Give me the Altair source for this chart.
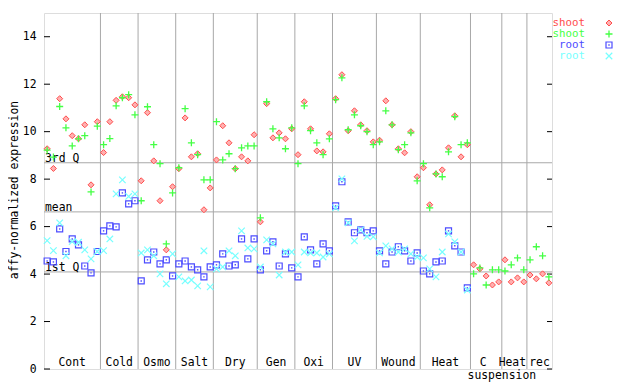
import altair as alt
import pandas as pd

# ---- data ----
categories = ["Cont", "Cold", "Osmo", "Salt", "Dry", "Gen", "Oxi", "UV", "Wound", "Heat", "C", "Heat", "rec"]
counts = [9, 6, 6, 6, 7, 6, 6, 7, 7, 8, 5, 4, 4]

shoot_red = [
    9.28, 8.45, 11.39, 10.54, 9.83, 9.70, 10.29, 7.76, 10.42,
    9.12, 10.42, 11.32, 11.47, 11.43, 11.13,
    7.93, 10.80, 8.77, 7.09, 5.02, 7.68,
    8.44, 10.58, 8.94, 9.07, 6.71, 7.63,
    8.81, 10.25, 9.53, 8.44, 8.94, 8.77, 9.87,
    6.20, 11.18, 9.74, 9.95, 9.70, 10.12,
    9.03, 11.26, 10.12, 9.19, 9.15, 9.91,
    11.39, 12.40, 10.04, 10.88, 10.29, 10.04, 9.57,
    9.64, 11.30, 10.29, 9.28, 9.11, 10.00, 8.10,
    8.48, 6.92, 8.22, 8.39, 9.32, 10.67, 8.94, 9.45,
    4.39, 4.22, 3.92, 3.54, 3.67,
    4.60, 3.67, 3.84, 3.67,
    3.96, 3.80, 4.01, 3.63,
]
shoot_green = [
    9.22, 8.93, 11.06, 10.16, 9.40, 9.70, 9.83, 7.46, 10.23,
    9.45, 9.71, 11.09, 11.43, 11.56, 10.71,
    7.09, 11.05, 9.45, 8.65, 5.27, 7.42,
    8.48, 10.97, 9.53, 9.03, 7.97, 7.97,
    10.42, 8.81, 9.07, 8.44, 9.32, 9.40, 9.40,
    6.37, 11.26, 10.12, 9.74, 9.28, 10.16,
    8.65, 11.09, 10.04, 9.53, 9.03, 9.70,
    11.35, 12.27, 10.08, 10.71, 10.25, 10.00, 9.45,
    9.57, 10.88, 10.29, 9.24, 9.45, 9.95, 7.93,
    8.65, 6.79, 8.22, 8.10, 9.15, 10.63, 9.45, 9.53,
    4.01, 4.26, 3.54, 4.18, 4.18,
    4.13, 4.39, 4.68, 4.18,
    4.60, 5.15, 4.77, 3.88,
]
root_blue = [
    4.55, 4.51, 5.90, 4.95, 5.48, 5.23, 4.34, 4.05, 4.95,
    5.82, 6.03, 5.99, 7.42, 6.96, 7.09,
    3.71, 4.60, 4.93, 4.43, 4.60, 3.92,
    4.43, 4.55, 4.30, 4.18, 3.88, 4.30,
    4.39, 4.85, 4.34, 4.39, 5.48, 4.64, 5.48,
    4.18, 4.98, 5.36, 4.34, 4.85, 4.26,
    3.88, 5.57, 5.02, 4.43, 5.27, 4.98,
    6.87, 7.89, 6.20, 5.74, 5.86, 5.74, 5.82,
    4.98, 4.43, 4.93, 5.15, 4.98, 4.55, 4.89,
    4.13, 4.01, 4.51, 4.55, 5.82, 5.19, 4.93, 3.42,
]
root_cyan = [
    5.41, 4.99, 6.16, 4.77, 5.37, 5.34, 5.02, 4.64, 4.95,
    4.99, 5.48, 7.38, 7.97, 7.27, 7.38,
    4.89, 5.02, 4.77, 4.01, 3.59, 4.85,
    3.88, 3.71, 3.75, 3.50, 4.98, 3.46,
    4.22, 4.30, 4.98, 4.77, 5.82, 5.10, 5.06,
    4.30, 5.44, 5.27, 3.96, 4.93, 4.93,
    4.39, 4.93, 4.89, 4.89, 4.72, 4.85,
    6.79, 8.01, 6.16, 5.40, 5.86, 5.59, 5.57,
    4.89, 5.19, 5.06, 4.93, 5.06, 4.85, 4.72,
    4.68, 4.22, 3.88, 4.93, 5.69, 5.36, 4.93, 3.33,
]
ref_names = ["3rd Q", "mean", "1st Q"]
ref_values = [8.69, 6.62, 4.09]
y_ticks = [0, 2, 4, 6, 8, 10, 12, 14]
series_labels = ["shoot", "shoot", "root", "root"]

# ---- layout / style ----
W, H = 508, 356
FONT = "DejaVu Sans Mono"
FS = 11.4
GRID = "#a8a8a8"
RED, GREEN, BLUE, CYAN = "#ff4d4d", "#44ff44", "#4c4cff", "#77ffff"
PLUS = "M-1,0L1,0M0,-1L0,1"
XSHAPE = "M-1,-1L1,1M-1,1L1,-1"
LABEL_DX = {10: -3, 11: -2}   # small nudges of category labels (by position in list)

N = sum(counts)
bounds = []
acc = 0
starts = []
for c in counts:
    starts.append(acc)
    acc += c
    bounds.append(acc)
bounds = bounds[:-1]

X = lambda f: alt.X(f, type="quantitative", scale=alt.Scale(domain=[0, N], nice=False, zero=False), axis=None)
Y = lambda f: alt.Y(f, type="quantitative", scale=alt.Scale(domain=[0, 15], nice=False),
                    axis=alt.Axis(values=y_ticks, ticks=False, domain=False, grid=False, title=None,
                                  labelFont=FONT, labelFontSize=FS, labelColor="black",
                                  labelPadding=8))


def series_df(vals):
    return pd.DataFrame({"x": [i + 0.5 for i in range(len(vals))], "v": vals})


layers = []

# vertical category separators
layers.append(alt.Chart(pd.DataFrame({"b": bounds})).mark_rule(color=GRID, strokeWidth=1).encode(x=X("b")))
# horizontal reference lines
ref_df = pd.DataFrame({"v": ref_values, "t": ref_names})
layers.append(alt.Chart(ref_df).mark_rule(color=GRID, strokeWidth=1).encode(y=Y("v")))
layers.append(alt.Chart(ref_df).mark_text(align="left", baseline="alphabetic", dy=-1, font=FONT,
                                          fontSize=FS, color="black")
              .encode(y=Y("v"), x=alt.value(1), text="t:N"))

# inward ticks left and right
tick_df = pd.DataFrame({"v": y_ticks})
layers.append(alt.Chart(tick_df).mark_rule(color="black").encode(y=Y("v"), x=alt.value(0), x2=alt.value(6)))
layers.append(alt.Chart(tick_df).mark_rule(color="black").encode(y=Y("v"), x=alt.value(W - 5), x2=alt.value(W)))

# data points
pt_defs = [
    (shoot_red, dict(shape="diamond", size=36, filled=True, fill="#ffb0b0", stroke=RED, strokeWidth=1)),
    (shoot_green, dict(shape=PLUS, size=49, filled=False, stroke=GREEN, strokeWidth=1.3)),
    (root_blue, dict(shape="square", size=36, filled=False, stroke=BLUE, strokeWidth=1.2)),
    (root_cyan, dict(shape=XSHAPE, size=42, filled=False, stroke=CYAN, strokeWidth=1.2)),
]
for vals, style in pt_defs:
    layers.append(alt.Chart(series_df(vals)).mark_point(opacity=1, **style).encode(x=X("x"), y=Y("v")))
    if style["shape"] == "square":
        layers.append(alt.Chart(series_df(vals)).mark_square(size=2, color=BLUE, opacity=1)
                      .encode(x=X("x"), y=Y("v")))

# category labels
for k, (cat, s, n) in enumerate(zip(categories, starts, counts)):
    layers.append(alt.Chart(pd.DataFrame({"c": [cat], "x": [s + n / 2]}))
                  .mark_text(baseline="alphabetic", font=FONT, fontSize=FS, color="black",
                             dx=LABEL_DX.get(k, 0))
                  .encode(x=X("x"), y=alt.value(H - 3), text="c:N"))
layers.append(alt.Chart(pd.DataFrame({"c": ["suspension"], "x": [bounds[10]]}))
              .mark_text(baseline="alphabetic", font=FONT, fontSize=FS, color="black")
              .encode(x=X("x"), y=alt.value(H + 10), text="c:N"))

# y title
layers.append(alt.Chart(pd.DataFrame({"t": ["affy-normalized expression"]}))
              .mark_text(angle=270, align="center", baseline="middle", font=FONT, fontSize=FS, color="black")
              .encode(x=alt.value(-29), y=alt.value(177), text="t:N"))

# manual legend
leg_styles = [s for _, s in pt_defs]
leg_colors = [RED, GREEN, BLUE, CYAN]
for k, (lab, col, st) in enumerate(zip(series_labels, leg_colors, leg_styles)):
    yy = 10 + 11 * k
    layers.append(alt.Chart(pd.DataFrame({"t": [lab]}))
                  .mark_text(align="right", baseline="middle", font=FONT, fontSize=10.8, color=col)
                  .encode(x=alt.value(541), y=alt.value(yy), text="t:N"))
    layers.append(alt.Chart(pd.DataFrame({"t": [lab]})).mark_point(opacity=1, **st)
                  .encode(x=alt.value(565), y=alt.value(yy)))
    if st["shape"] == "square":
        layers.append(alt.Chart(pd.DataFrame({"t": [lab]})).mark_square(size=2, color=BLUE, opacity=1)
                      .encode(x=alt.value(565), y=alt.value(yy)))

chart = alt.layer(*layers).properties(
    width=W, height=H,
    autosize=alt.AutoSizeParams(type="none"),
    padding={"left": 36, "top": 5, "right": 80, "bottom": 14},
).configure_view(stroke="black", strokeWidth=1).configure(background="white")

chart.save("out.html", embed_options={"renderer": "svg", "actions": False})
